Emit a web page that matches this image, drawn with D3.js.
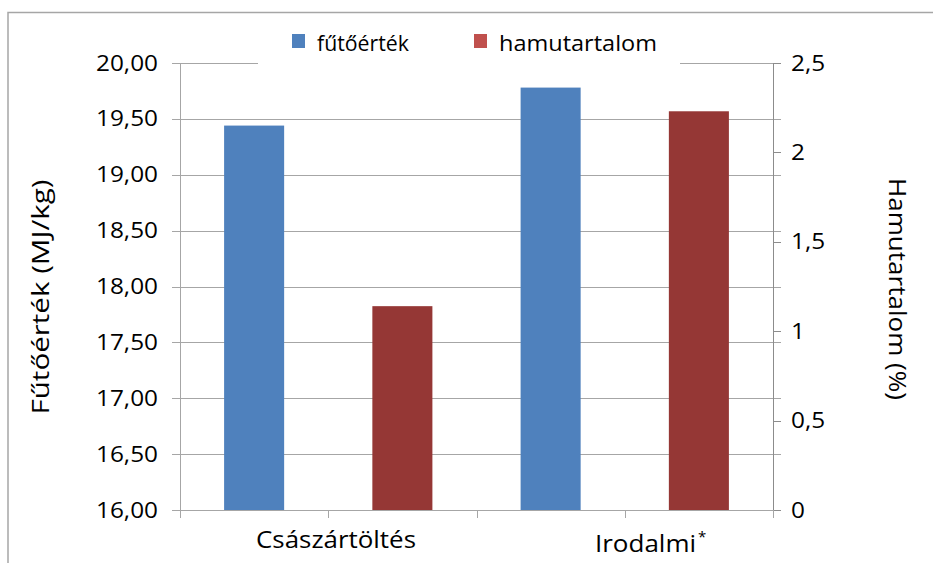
<!DOCTYPE html>
<html>
<head>
<meta charset="utf-8">
<script src="https://cdn.jsdelivr.net/npm/d3@7"></script>
<style>
  body { margin: 0; background: #fff; }
  text { font-family: "Open Sans", "DejaVu Sans", sans-serif; fill: #000; }
</style>
</head>
<body>
<svg id="chart" width="933" height="563"></svg>
<script>
// Sample groups and measured values
const categories = ["Császártöltés", "Irodalmi"];
const series = ["fűtőérték", "hamutartalom"];
const heatingValue = [19.44, 19.78];   // MJ/kg, left axis
const ashContent = [1.14, 2.23];       // %, right axis
const leftTicks = [16, 16.5, 17, 17.5, 18, 18.5, 19, 19.5, 20];
const rightTicks = [0, 0.5, 1, 1.5, 2, 2.5];
const seriesColors = ["#4F81BD", "#953735"];
const legendColors = ["#4F81BD", "#C0504D"];

const svg = d3.select("#chart");
const plot = { left: 180, right: 773, top: 63, bottom: 510 };
const stretch = 1.16; // horizontal widening of the label type

// Outer frame of the chart area
svg.append("path")
  .attr("d", "M8,563 V12.5 H933")
  .attr("fill", "none").attr("stroke", "#a6a6a6").attr("stroke-width", 1.5);

const x0 = d3.scaleBand().domain(categories).range([plot.left, plot.right]);
const x1 = d3.scaleBand().domain(series).range([0, x0.bandwidth()]).paddingInner(0.595).paddingOuter(0.2975);
const yL = d3.scaleLinear().domain([16, 20]).range([plot.bottom, plot.top]);
const yR = d3.scaleLinear().domain([0, 2.5]).range([plot.bottom, plot.top]);

const fmtL = d => d.toFixed(2).replace(".", ",");
const fmtR = d => String(d).replace(".", ",");

// Gridlines (left axis)
svg.append("g").selectAll("line").data(leftTicks).join("line")
  .attr("x1", plot.left - 8).attr("x2", plot.right + 8)
  .attr("y1", d => Math.round(yL(d)) + 0.5).attr("y2", d => Math.round(yL(d)) + 0.5)
  .attr("stroke", "#a6a6a6").attr("stroke-width", 1);

// Right axis ticks at its own positions
svg.append("g").selectAll("line").data(rightTicks).join("line")
  .attr("x1", plot.right).attr("x2", plot.right + 8)
  .attr("y1", d => Math.round(yR(d)) + 0.5).attr("y2", d => Math.round(yR(d)) + 0.5)
  .attr("stroke", "#8c8c8c");

// Axis lines
svg.append("line").attr("x1", plot.left + 0.5).attr("x2", plot.left + 0.5)
  .attr("y1", plot.top).attr("y2", plot.bottom).attr("stroke", "#a6a6a6");
svg.append("line").attr("x1", plot.right + 0.5).attr("x2", plot.right + 0.5)
  .attr("y1", plot.top).attr("y2", plot.bottom).attr("stroke", "#8c8c8c");

// Category tick marks at every band boundary
const boundaries = [];
categories.forEach(c => {
  boundaries.push(x0(c));
  boundaries.push(x0(c) + x0.bandwidth() / 2);
});
boundaries.push(plot.right);
svg.append("g").selectAll("line").data(boundaries).join("line")
  .attr("x1", d => Math.round(d) + 0.5).attr("x2", d => Math.round(d) + 0.5)
  .attr("y1", plot.bottom).attr("y2", plot.bottom + 8)
  .attr("stroke", "#a6a6a6");

// Bars
const groups = svg.append("g").selectAll("g").data(categories).join("g")
  .attr("transform", c => `translate(${x0(c)},0)`);
groups.append("rect")
  .attr("x", x1(series[0])).attr("width", x1.bandwidth())
  .attr("y", (c, i) => yL(heatingValue[i]))
  .attr("height", (c, i) => yL(16) - yL(heatingValue[i]))
  .attr("fill", seriesColors[0]);
groups.append("rect")
  .attr("x", x1(series[1])).attr("width", x1.bandwidth())
  .attr("y", (c, i) => yR(ashContent[i]))
  .attr("height", (c, i) => yR(0) - yR(ashContent[i]))
  .attr("fill", seriesColors[1]);

// Tick labels
svg.append("g").selectAll("text").data(leftTicks).join("text")
  .attr("transform", d => `translate(158,${yL(d)}) scale(${stretch},1)`)
  .attr("dy", "0.36em")
  .attr("text-anchor", "end").attr("font-size", 21)
  .text(fmtL);
svg.append("g").selectAll("text").data(rightTicks).join("text")
  .attr("transform", d => `translate(791,${yR(d)}) scale(${stretch},1)`)
  .attr("dy", "0.36em")
  .attr("text-anchor", "start").attr("font-size", 21)
  .text(fmtR);

// Category labels
const catX = [256, 595];
const catY = [548, 552];
const catW = [160, 101];
svg.append("g").selectAll("text").data(categories).join("text")
  .attr("x", (c, i) => catX[i])
  .attr("y", (c, i) => catY[i])
  .attr("font-size", 23)
  .attr("textLength", (c, i) => catW[i]).attr("lengthAdjust", "spacingAndGlyphs")
  .text(c => c);
// footnote marker on the literature value
svg.append("text")
  .attr("x", 698).attr("y", 542)
  .attr("font-size", 15)
  .text("*");

// Axis titles
svg.append("text")
  .attr("transform", "translate(49,297) rotate(-90)")
  .attr("x", -117.5)
  .attr("font-size", 23)
  .attr("textLength", 235).attr("lengthAdjust", "spacingAndGlyphs")
  .text("Fűtőérték (MJ/kg)");
svg.append("text")
  .attr("transform", "translate(889,289) rotate(90)")
  .attr("x", -111)
  .attr("font-size", 23)
  .attr("textLength", 222).attr("lengthAdjust", "spacingAndGlyphs")
  .text("Hamutartalom (%)");

// Legend on a white background over the top gridline
const legend = svg.append("g");
legend.append("rect").attr("x", 258).attr("y", 22).attr("width", 422).attr("height", 48).attr("fill", "#fff");
const legendX = [292, 474];
const legendW = [92, 158];
series.forEach((s, i) => {
  legend.append("rect").attr("x", legendX[i]).attr("y", 34).attr("width", 13).attr("height", 14)
    .attr("fill", legendColors[i]);
  legend.append("text").attr("x", legendX[i] + 25).attr("y", 51)
    .attr("font-size", 21)
    .attr("textLength", legendW[i]).attr("lengthAdjust", "spacingAndGlyphs")
    .text(s);
});
</script>
</body>
</html>
